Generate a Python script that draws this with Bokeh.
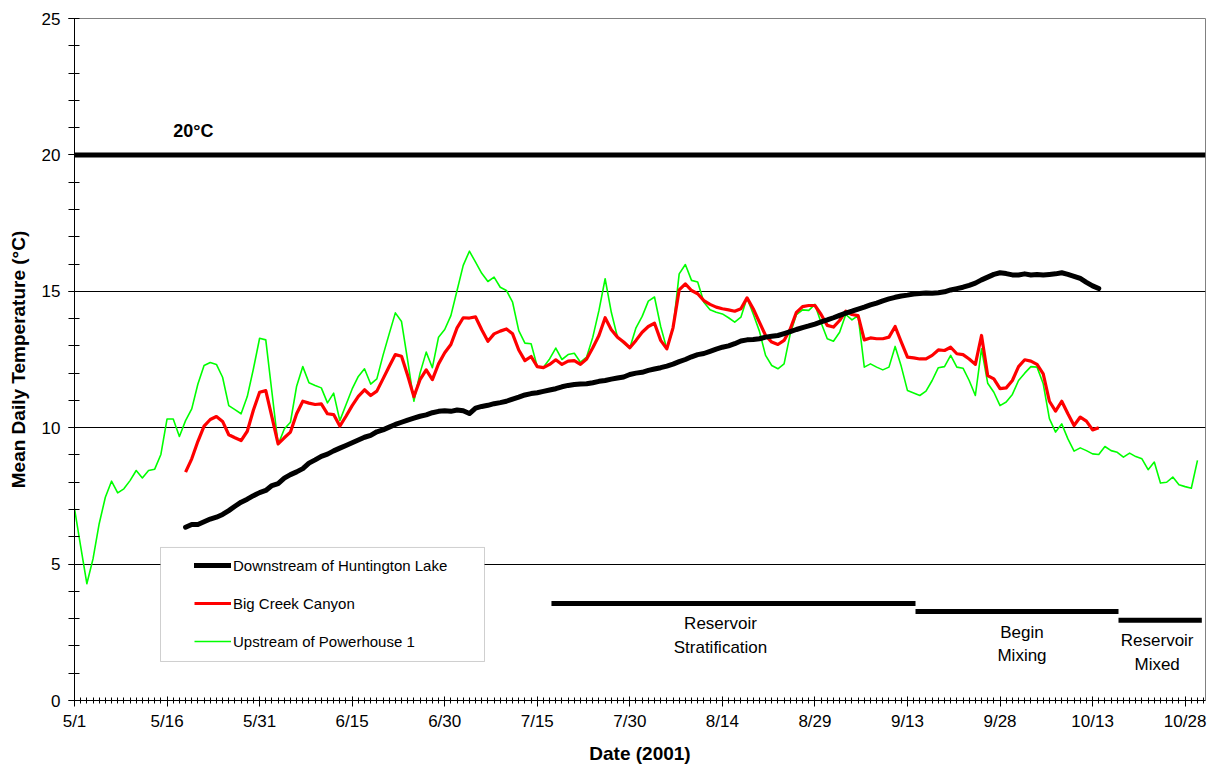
from bokeh.plotting import figure
from bokeh.models import (Range1d, FixedTicker, Span, Legend, LegendItem,
                          BoxAnnotation, ColumnDataSource, Label)
from bokeh.core.properties import value
from bokeh.embed import file_html
from bokeh.resources import INLINE

# ---------------- data (x = days since 1 May 2001) ----------------
tick_days = [0, 15, 30, 45, 60, 75, 90, 105, 120, 135, 150, 165, 180]
tick_labels = ["5/1", "5/16", "5/31", "6/15", "6/30", "7/15", "7/30",
               "8/14", "8/29", "9/13", "9/28", "10/13", "10/28"]

upstream_start = 0
upstream_ph1 = [
    7.03, 5.65, 4.28, 5.19, 6.48, 7.45, 8.04, 7.61, 7.76, 8.06,
    8.43, 8.16, 8.43, 8.48, 9.02, 10.32, 10.32, 9.68, 10.26, 10.69,
    11.60, 12.28, 12.39, 12.32, 11.85, 10.81, 10.66, 10.51, 11.14, 12.16,
    13.28, 13.22, 11.30, 9.38, 9.95, 10.20, 11.52, 12.24, 11.65, 11.55,
    11.46, 10.91, 11.27, 10.26, 10.84, 11.42, 11.88, 12.16, 11.60, 11.79,
    12.65, 13.44, 14.21, 13.89, 12.46, 10.97, 12.00, 12.77, 12.20, 13.32,
    13.60, 14.11, 15.03, 15.95, 16.47, 16.07, 15.66, 15.36, 15.52, 15.15,
    15.03, 14.60, 13.56, 13.10, 13.08, 12.24, 12.22, 12.52, 12.92, 12.50,
    12.68, 12.73, 12.40, 12.59, 13.32, 14.30, 15.46, 14.23, 13.32, 13.10,
    12.92, 13.66, 14.08, 14.64, 14.79, 13.71, 12.89, 13.62, 15.64, 15.98,
    15.40, 15.34, 14.60, 14.32, 14.23, 14.17, 14.03, 13.87, 14.05, 14.76,
    14.17, 13.54, 12.65, 12.28, 12.16, 12.34, 13.44, 14.15, 14.32, 14.30,
    14.52, 13.85, 13.26, 13.17, 13.50, 14.15, 13.95, 14.11, 12.22, 12.34,
    12.22, 12.12, 12.22, 12.98, 12.24, 11.36, 11.27, 11.18, 11.34, 11.73,
    12.20, 12.24, 12.65, 12.22, 12.18, 11.73, 11.18, 12.89, 11.63, 11.30,
    10.81, 10.94, 11.22, 11.73, 12.00, 12.24, 12.22, 11.61, 10.33, 9.84,
    10.14, 9.59, 9.14, 9.26, 9.16, 9.04, 9.02, 9.31, 9.16, 9.10,
    8.92, 9.07, 8.94, 8.86, 8.46, 8.74, 7.97, 8.00, 8.19, 7.91,
    7.84, 7.78, 8.80,
]

big_creek_start = 18
big_creek = [
    8.37, 8.86, 9.50, 10.06, 10.30, 10.41, 10.23, 9.74, 9.63, 9.53,
    9.87, 10.65, 11.30, 11.36, 10.39, 9.41, 9.63, 9.84, 10.51, 10.97,
    10.90, 10.85, 10.87, 10.51, 10.48, 10.06, 10.42, 10.81, 11.15, 11.39,
    11.18, 11.34, 11.79, 12.24, 12.68, 12.62, 11.91, 11.14, 11.76, 12.12,
    11.76, 12.34, 12.75, 13.05, 13.66, 14.03, 14.02, 14.06, 13.59, 13.17,
    13.44, 13.54, 13.62, 13.44, 12.85, 12.46, 12.61, 12.24, 12.20, 12.32,
    12.49, 12.32, 12.44, 12.46, 12.32, 12.52, 12.93, 13.38, 14.03, 13.59,
    13.32, 13.14, 12.93, 13.20, 13.50, 13.71, 13.83, 13.20, 12.89, 13.66,
    15.05, 15.27, 15.03, 14.91, 14.66, 14.52, 14.42, 14.36, 14.32, 14.27,
    14.36, 14.76, 14.36, 13.87, 13.38, 13.14, 13.05, 13.20, 13.62, 14.23,
    14.44, 14.48, 14.48, 14.15, 13.75, 13.69, 13.93, 14.27, 14.15, 14.11,
    13.22, 13.29, 13.26, 13.26, 13.32, 13.71, 13.14, 12.59, 12.56, 12.52,
    12.52, 12.65, 12.85, 12.83, 12.95, 12.71, 12.68, 12.52, 12.32, 13.38,
    11.91, 11.79, 11.43, 11.46, 11.73, 12.24, 12.49, 12.44, 12.32, 11.97,
    10.97, 10.61, 10.97, 10.51, 10.08, 10.39, 10.24, 9.92, 10.00,
]

downstream_start = 18
downstream_huntington = [
    6.35, 6.45, 6.45, 6.55, 6.65, 6.72, 6.82, 6.96, 7.12, 7.27,
    7.38, 7.51, 7.62, 7.70, 7.88, 7.95, 8.15, 8.28, 8.38, 8.50,
    8.70, 8.82, 8.95, 9.03, 9.15, 9.25, 9.35, 9.45, 9.55, 9.65,
    9.72, 9.85, 9.92, 10.02, 10.12, 10.20, 10.28, 10.35, 10.42, 10.47,
    10.55, 10.60, 10.62, 10.60, 10.65, 10.62, 10.52, 10.72, 10.78, 10.82,
    10.88, 10.92, 10.97, 11.05, 11.12, 11.20, 11.25, 11.28, 11.33, 11.38,
    11.43, 11.50, 11.55, 11.58, 11.60, 11.61, 11.65, 11.70, 11.73, 11.78,
    11.82, 11.86, 11.95, 12.00, 12.03, 12.10, 12.15, 12.20, 12.26, 12.33,
    12.42, 12.50, 12.60, 12.68, 12.72, 12.80, 12.88, 12.95, 13.00, 13.08,
    13.18, 13.22, 13.23, 13.26, 13.32, 13.35, 13.38, 13.45, 13.52, 13.60,
    13.67, 13.73, 13.80, 13.88, 13.95, 14.03, 14.12, 14.20, 14.27, 14.35,
    14.42, 14.50, 14.57, 14.65, 14.72, 14.78, 14.83, 14.86, 14.90, 14.92,
    14.94, 14.93, 14.95, 14.98, 15.05, 15.10, 15.15, 15.22, 15.30, 15.42,
    15.52, 15.62, 15.68, 15.65, 15.60, 15.60, 15.64, 15.60, 15.62, 15.60,
    15.62, 15.64, 15.68, 15.62, 15.55, 15.47, 15.33, 15.20, 15.10,
]

threshold_c = 20
threshold_label = "20°C"

phase_names = ["Reservoir\nStratification", "Begin\nMixing", "Reservoir\nMixed"]
phase_start = [77.3, 136.3, 169.2]
phase_end = [136.3, 169.2, 182.7]
phase_level = [3.56, 3.26, 2.94]

# ---------------- layout / style ----------------
FONT = "Liberation Sans"
label_dx = [-13, 5, -3]   # px shift of the phase captions

def days(start, vals):
    return [start + i for i in range(len(vals))]

p = figure(width=1208, height=766, output_backend="svg", toolbar_location=None,
           x_range=Range1d(0, 183.3), y_range=Range1d(0, 25),
           min_border_left=74, min_border_right=3, min_border_top=18,
           min_border_bottom=66)
p.background_fill_color = "white"
p.border_fill_color = "white"
p.outline_line_color = "#808080"
p.outline_line_width = 1

# grid
p.xgrid.visible = False
p.ygrid.ticker = FixedTicker(ticks=[5, 10, 15])
p.ygrid.grid_line_color = "black"
p.ygrid.grid_line_width = 1

# axes
p.xaxis.ticker = FixedTicker(ticks=tick_days, minor_ticks=list(range(0, 184)))
p.xaxis.major_label_overrides = {d: l for d, l in zip(tick_days, tick_labels)}
p.yaxis.ticker = FixedTicker(ticks=[0, 5, 10, 15, 20, 25], minor_ticks=list(range(0, 26)))
for ax in (p.xaxis[0], p.yaxis[0]):
    ax.axis_line_color = "black"
    ax.axis_line_width = 1
    ax.major_tick_line_color = "black"
    ax.minor_tick_line_color = "black"
    ax.major_label_text_font = FONT
    ax.major_label_text_font_size = "17px"
    ax.major_label_text_color = "black"
    ax.axis_label_text_font = FONT
    ax.axis_label_text_font_size = "19px"
    ax.axis_label_text_font_style = "bold"
    ax.axis_label_text_color = "black"

p.xaxis.axis_label = "Date (2001)"
p.xaxis.major_tick_in = 4
p.xaxis.major_tick_out = 6
p.xaxis.minor_tick_in = 3
p.xaxis.minor_tick_out = 3
p.xaxis.major_label_standoff = 5
p.xaxis.axis_label_standoff = 9

p.yaxis.axis_label = "Mean Daily Temperature (°C)"
p.yaxis.major_tick_in = 0
p.yaxis.major_tick_out = 6
p.yaxis.minor_tick_in = 5
p.yaxis.minor_tick_out = 6
p.yaxis.major_label_standoff = 8
p.yaxis.axis_label_standoff = 10

# 20 °C threshold
p.add_layout(Span(location=threshold_c, dimension="width", line_color="black",
                  line_width=5))
p.add_layout(Label(x=16.0, y=threshold_c, y_offset=24, text=threshold_label,
                   text_font=FONT, text_font_size="18px", text_font_style="bold",
                   text_baseline="middle", text_align="left", text_color="black"))

# series
r_green = p.line(days(upstream_start, upstream_ph1), upstream_ph1,
                 line_color="#00FF00", line_width=1.6, line_join="round")
r_red = p.line(days(big_creek_start, big_creek), big_creek,
               line_color="#FF0000", line_width=3.2, line_join="round")
r_black = p.line(days(downstream_start, downstream_huntington), downstream_huntington,
                 line_color="black", line_width=5, line_join="round", line_cap="round")

# phase bars
phase_src = ColumnDataSource(dict(
    x0=phase_start, x1=phase_end, y=phase_level, name=phase_names,
    xm=[(a + b) / 2 for a, b in zip(phase_start, phase_end)], dx=label_dx))
p.segment(x0="x0", y0="y", x1="x1", y1="y", source=phase_src,
          line_color="black", line_width=5)
p.text(x="xm", y="y", text="name", source=phase_src, x_offset="dx", y_offset=11,
       text_align="center", text_baseline="top", text_font=value(FONT),
       text_font_size="17px", text_color="black", text_line_height=1.24)

# legend box + legend
p.add_layout(BoxAnnotation(left=13.94, right=66.45, bottom=1.43, top=5.61,
                           fill_color="white", fill_alpha=1.0,
                           line_color="#606060", line_width=1))
legend = Legend(items=[
    LegendItem(label="Downstream of Huntington Lake", renderers=[r_black]),
    LegendItem(label="Big Creek Canyon", renderers=[r_red]),
    LegendItem(label="Upstream of Powerhouse 1", renderers=[r_green]),
], location=(112, 41), padding=8, spacing=18, label_height=20, glyph_height=20,
   glyph_width=37, label_standoff=2, border_line_alpha=0,
   background_fill_alpha=0, label_text_font=FONT, label_text_font_size="15px",
   label_text_color="black", margin=0)
p.add_layout(legend)

open("out.html", "w").write(file_html(p, INLINE))
